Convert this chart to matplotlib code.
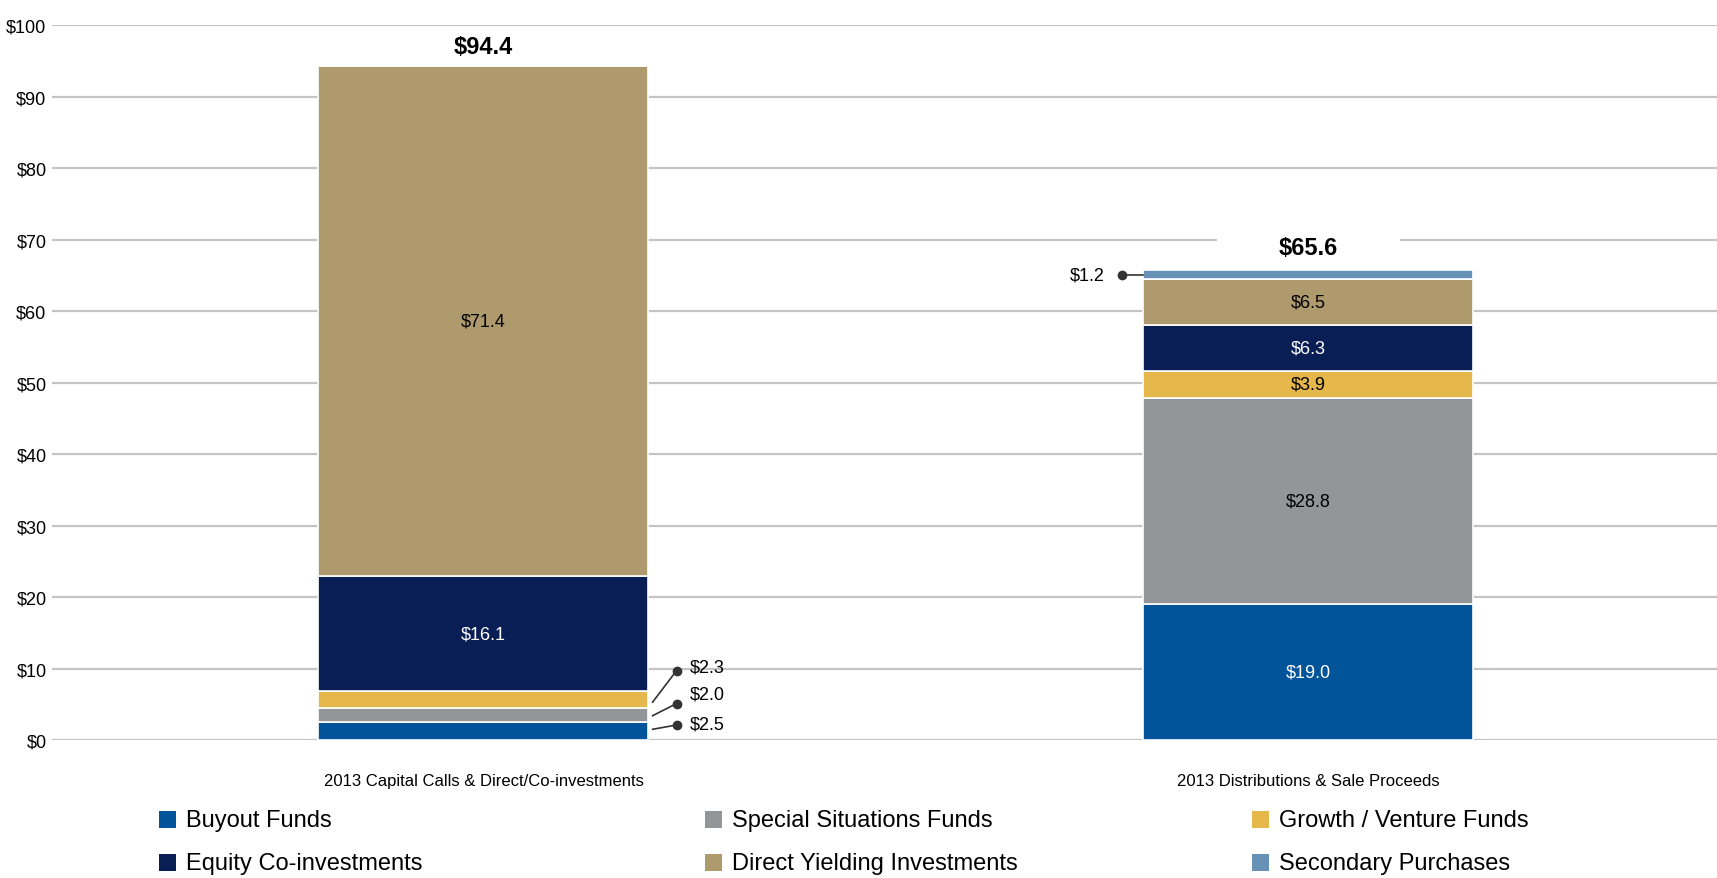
import matplotlib
matplotlib.use("Agg")
import matplotlib.pyplot as plt
from matplotlib.patches import Rectangle
import numpy as np

categories = ["2013 Capital Calls & Direct/Co-investments", "2013 Distributions & Sale Proceeds"]
series_names = ["Buyout Funds", "Special Situations Funds", "Growth / Venture Funds",
                "Equity Co-investments", "Direct Yielding Investments", "Secondary Purchases"]
buyout = [2.5, 19.0]
special = [2.0, 28.8]
growth = [2.3, 3.9]
equity = [16.1, 6.3]
direct = [71.4, 6.5]
secondary = [0.0, 1.2]
totals = [94.4, 65.6]
yticks = [0, 10, 20, 30, 40, 50, 60, 70, 80, 90, 100]

colors = ["#01539A", "#939598", "#E6B84C", "#0A1E56", "#AF9A6D", "#6892B5"]
text_colors = ["white", "black", "black", "white", "black", "black"]

plt.rcParams['font.family'] = ['Liberation Sans Narrow', 'Liberation Sans', 'DejaVu Sans']

fig = plt.figure(figsize=(17.17, 8.79), dpi=100)
ax = fig.add_axes([52/1717, 1-741/879, 1-52/1717, (741-26.3)/879])

x = np.arange(len(categories))
width = 0.4
all_series = [buyout, special, growth, equity, direct, secondary]
bottom = np.zeros(len(categories))
for i, s in enumerate(all_series):
    vals = np.array(s)
    ax.bar(x, vals, width, bottom=bottom, color=colors[i], edgecolor="white",
           linewidth=1.2, zorder=3)
    for j, v in enumerate(vals):
        if v >= 3.0:
            ax.text(x[j], bottom[j] + v / 2, f"${v:.1f}", ha="center", va="center",
                    fontsize=13, color=text_colors[i], zorder=4)
    bottom = bottom + vals

# totals
ax.text(x[0], 97.1, f"${totals[0]:.1f}", ha="center", va="center", fontsize=17,
        fontweight="bold", zorder=5)
ax.text(x[1], 68.9, f"${totals[1]:.1f}", ha="center", va="center", fontsize=17,
        fontweight="bold", zorder=2,
        bbox=dict(facecolor="white", edgecolor="none", boxstyle="square,pad=2.6"))

# small-segment callouts on left bar
callouts = [  # (value, line start y, dot y, label y)
    (growth[0], 5.3, 9.7, 10.2),
    (special[0], 3.4, 5.1, 6.5),
    (buyout[0], 1.5, 2.1, 2.3),
]
for val, y0, y1, yl in callouts:
    ax.plot([x[0] + 0.205, x[0] + 0.234], [y0, y1], color="#333333", lw=1.2, zorder=4)
    ax.plot([x[0] + 0.234], [y1], "o", color="#333333", ms=6, zorder=4)
    ax.text(x[0] + 0.25, yl, f"${val:.1f}", ha="left", va="center", fontsize=13, zorder=4)

# right bar secondary callout
ytop = sum(s[1] for s in all_series)
ymid = ytop - secondary[1] / 2
ax.plot([x[1] - 0.226, x[1] - 0.2], [ymid, ymid], color="#333333", lw=1.2, zorder=4)
ax.plot([x[1] - 0.226], [ymid], "o", color="#333333", ms=6, zorder=4)
ax.text(x[1] - 0.247, ymid, f"${secondary[1]:.1f}", ha="right", va="center", fontsize=13)

ax.set_xlim(-0.523, 1 + (1717 - 1308.5) / 825)
ax.set_ylim(0, 100)
ax.set_yticks(yticks)
ax.set_yticklabels([f"${t}" for t in yticks], fontsize=13)
ax.set_xticks(x)
ax.set_xticklabels(categories, fontsize=12)
ax.tick_params(axis="both", length=0)
ax.tick_params(axis="x", pad=24)
ax.tick_params(axis="y", pad=4)
ax.grid(axis="y", color="#C4C4C4", linewidth=1.6, zorder=0)
ax.set_axisbelow(True)
for sp in ax.spines.values():
    sp.set_visible(False)

# legend (manual, row-wise)
col_x = [159, 705, 1252]
row_y = [821, 864]
for i, name in enumerate(series_names):
    c, r = i % 3, i // 3
    px, py = col_x[c], row_y[r]
    fig.add_artist(Rectangle(((px) / 1717, 1 - (py + 8) / 879), 17 / 1717, 17 / 879,
                             transform=fig.transFigure, facecolor=colors[i], edgecolor="none"))
    fig.text((px + 27) / 1717, 1 - py / 879, name, fontsize=17, va="center", ha="left")

fig.savefig("out.png", dpi=100)
